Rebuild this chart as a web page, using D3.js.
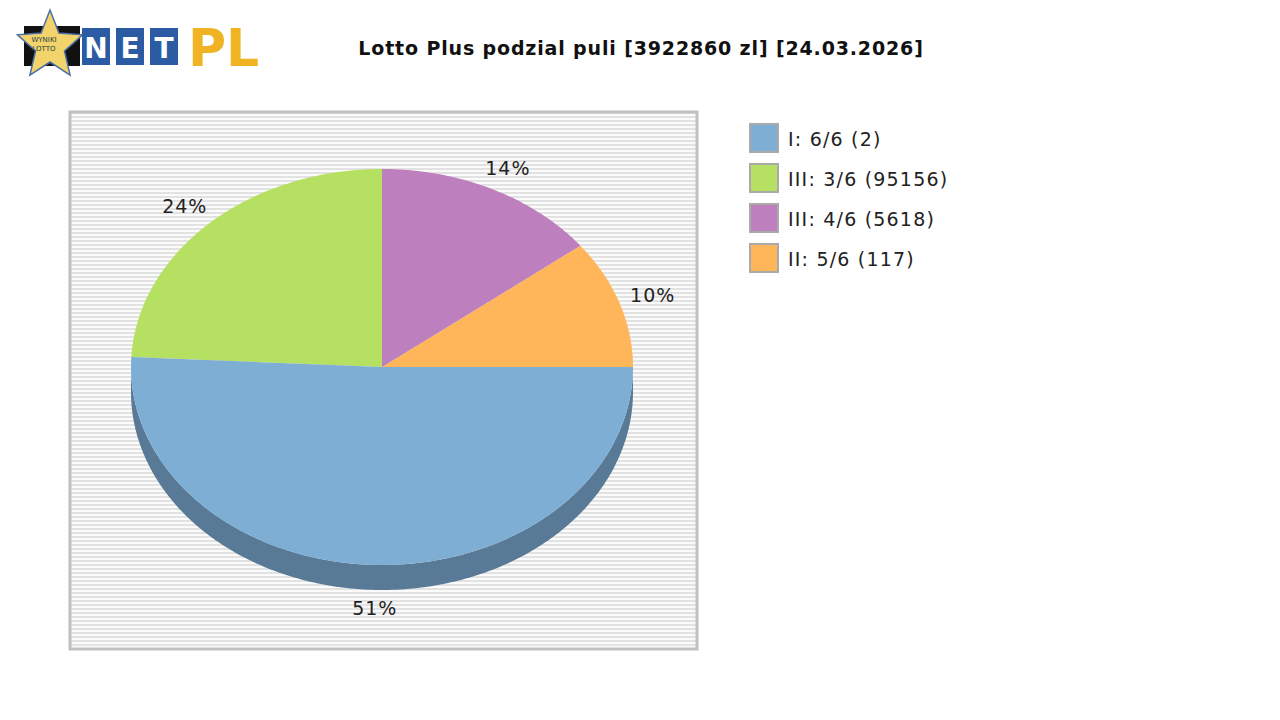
<!DOCTYPE html>
<html><head><meta charset="utf-8">
<script src="https://cdn.jsdelivr.net/npm/d3@7"></script>
<style>body{margin:0;background:#fff}</style></head>
<body><svg width="1280" height="720"></svg>
<script>
const title = 'Lotto Plus podzial puli [3922860 zl] [24.03.2026]'
// legend order
const legendLabels = ['I: 6/6 (2)', 'III: 3/6 (95156)', 'III: 4/6 (5618)', 'II: 5/6 (117)']
const legendColors = ['#7eaed4', '#b5e061', '#bd7fbe', '#ffb55a']
// drawing order, anticlockwise from top
const sliceNames = ['III: 3/6', 'I: 6/6', 'II: 5/6', 'III: 4/6']
const sliceValues = [24.2, 50.8, 10.5, 14.5]
const sliceLabels = ['24%', '51%', '10%', '14%']
const sliceColors = ['#b5e061', '#7eaed4', '#ffb55a', '#bd7fbe']

const svg = d3.select('svg')
const font = 'DejaVu Sans, sans-serif'

// logo
const logo = svg.append('g')
const star = d3.range(10).map(i => {
  const a = -Math.PI / 2 + i * Math.PI / 5, r = i % 2 ? 16 : 36
  return [50 + r * Math.cos(a) * 0.95, 46 + r * Math.sin(a)]
})
logo.append('rect').attr('x', 24).attr('y', 26).attr('width', 56).attr('height', 40).attr('fill', '#111')
logo.append('polygon').attr('points', star.join(' ')).attr('fill', '#f3d36c').attr('stroke', '#4a6fa8').attr('stroke-width', 1.5)
logo.append('text').attr('x', 44).attr('y', 42).attr('text-anchor', 'middle').attr('font-family', font).attr('font-size', 7).attr('fill', '#244').text('WYNIKI')
logo.append('text').attr('x', 44).attr('y', 51).attr('text-anchor', 'middle').attr('font-family', font).attr('font-size', 7).attr('fill', '#244').text('LOTTO')
;['N', 'E', 'T'].forEach((c, i) => {
  logo.append('rect').attr('x', 82 + i * 34).attr('y', 28).attr('width', 28).attr('height', 37).attr('fill', '#2a5ba3')
  logo.append('text').attr('x', 96 + i * 34).attr('y', 58).attr('text-anchor', 'middle').attr('font-family', font)
    .attr('font-weight', 'bold').attr('font-size', 28).attr('fill', '#fff').text(c)
})
logo.append('text').attr('x', 188).attr('y', 66).attr('font-family', font).attr('font-weight', 'bold')
  .attr('font-size', 52).attr('fill', '#f0b323').text('PL')

svg.append('text').attr('x', 641).attr('y', 55).attr('text-anchor', 'middle').attr('font-family', font)
  .attr('font-weight', 'bold').attr('font-size', 19).attr('letter-spacing', 0.85).attr('fill', '#111').text(title)

// plot background with stripes
const px = 70, py = 112, pw = 627, ph = 537
const pat = svg.append('defs').append('pattern').attr('id', 'stripes').attr('patternUnits', 'userSpaceOnUse')
  .attr('width', 4).attr('height', 4)
pat.append('rect').attr('width', 4).attr('height', 4).attr('fill', '#fbfbfb')
pat.append('rect').attr('width', 4).attr('height', 2).attr('fill', '#e2e2e2')
svg.append('rect').attr('x', px).attr('y', py).attr('width', pw).attr('height', ph).attr('fill', 'url(#stripes)')
  .attr('stroke', '#c0c0c0').attr('stroke-width', 3)

// pie
const cx = 382, cy = 367, rx = 251, ry = 198, depth = 25
const pie = d3.pie().sort(null).value(d => d).startAngle(0).endAngle(-2 * Math.PI)
const arcs = pie(sliceValues)
const pt = (a, dy = 0) => [cx + rx * Math.sin(a), cy - ry * Math.cos(a) + dy]
const arcPts = (a0, a1, dy = 0) => {
  const n = Math.max(2, Math.ceil(Math.abs(a1 - a0) * 60))
  return d3.range(n + 1).map(i => pt(a0 + (a1 - a0) * i / n, dy))
}
// side wall (front half only, d3 angles PI/2..3PI/2)
const side = arcPts(Math.PI / 2, 3 * Math.PI / 2)
const sidePath = side.concat(arcPts(3 * Math.PI / 2, Math.PI / 2, depth))
svg.append('path').attr('d', 'M' + sidePath.join('L') + 'Z').attr('fill', '#587a96')

arcs.forEach((a, i) => {
  const pts = [[cx, cy]].concat(arcPts(a.startAngle, a.endAngle))
  svg.append('path').attr('d', 'M' + pts.join('L') + 'Z').attr('fill', sliceColors[i])
})

arcs.forEach((a, i) => {
  const m = (a.startAngle + a.endAngle) / 2
  let [x, y] = [cx + rx * 1.14 * Math.sin(m), cy - ry * 1.12 * Math.cos(m)]
  if (Math.cos(m) < 0) y += (depth - 6) * -Math.cos(m)
  svg.append('text').attr('x', x).attr('y', y + 7).attr('text-anchor', 'middle').attr('font-family', font)
    .attr('font-size', 19).attr('letter-spacing', 1).attr('fill', '#222').text(sliceLabels[i])
})

// legend
const lg = svg.append('g').selectAll('g').data(legendLabels).enter().append('g')
  .attr('transform', (_, i) => `translate(749,${123 + i * 40})`)
lg.append('rect').attr('x', 1).attr('y', 1).attr('width', 28).attr('height', 28)
  .attr('fill', (_, i) => legendColors[i]).attr('stroke', '#aaa').attr('stroke-width', 2)
lg.append('text').attr('x', 39).attr('y', 23).attr('font-family', font).attr('font-size', 19)
  .attr('letter-spacing', 1.2).attr('fill', '#222').text(d => d)
</script></body></html>
